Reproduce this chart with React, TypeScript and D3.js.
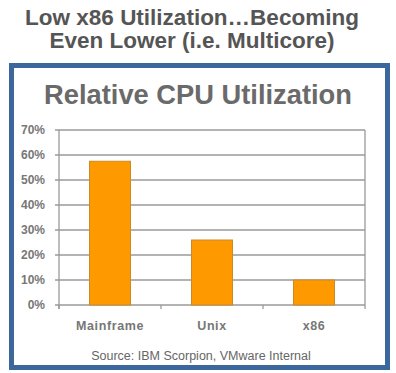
import React from "react";
import * as d3 from "d3";

const categories = ["Mainframe", "Unix", "x86"];
const values = [0.575, 0.26, 0.1];
const yTicks = [0, 0.1, 0.2, 0.3, 0.4, 0.5, 0.6, 0.7];
const titleLines = ["Low x86 Utilization…Becoming", "Even Lower (i.e. Multicore)"];
const chartTitle = "Relative CPU Utilization";
const sourceText = "Source: IBM Scorpion, VMware Internal";

export default function App() {
  const W = 396, H = 373;
  const left = 59, right = 365, top = 130, bottom = 305;
  const x = d3.scaleBand<string>().domain(categories).range([left, right]).paddingInner(0).paddingOuter(0);
  const y = d3.scaleLinear().domain([0, 0.7]).range([bottom, top]);
  const barW = 41;
  const fmt = d3.format(".0%");
  const font = "Arial, 'Liberation Sans', sans-serif";
  return (
    <svg width={W} height={H} style={{ position: "absolute", left: 0, top: 0, background: "#fff" }} fontFamily={font}>
      <rect x={0} y={0} width={W} height={H} fill="#fff" />
      {titleLines.map((t, i) => (
        <text key={i} x={192} y={25 + i * 23} textAnchor="middle" fontSize={22.5} fontWeight="bold" fill="#555">{t}</text>
      ))}
      <rect x={11.5} y={65.5} width={376} height={302} fill="#fff" stroke="#3b679d" strokeWidth={5} />
      <text x={198} y={104} textAnchor="middle" fontSize={27.3} fontWeight="bold" fill="#6a6a6a">{chartTitle}</text>
      {yTicks.map((t) => (
        <g key={t}>
          <line x1={left - 4} x2={right} y1={y(t)} y2={y(t)} stroke="#9a9a9a" strokeWidth={1.3} />
          <text x={45} y={y(t) + 4} textAnchor="end" fontSize={12} fontWeight="bold" fill="#777">{fmt(t)}</text>
        </g>
      ))}
      <line x1={left} x2={left} y1={top} y2={bottom + 4} stroke="#9a9a9a" strokeWidth={1.3} />
      <line x1={right} x2={right} y1={top} y2={bottom + 4} stroke="#9a9a9a" strokeWidth={1.3} />
      {categories.map((c) => (
        <line key={"t" + c} x1={x(c)!} x2={x(c)!} y1={bottom} y2={bottom + 4} stroke="#9a9a9a" strokeWidth={1.3} />
      ))}
      {categories.map((c, i) => {
        const cx = x(c)! + x.bandwidth() / 2;
        return (
          <g key={c}>
            <rect x={cx - barW / 2} y={y(values[i])} width={barW} height={bottom - y(values[i])} fill="#ff9900" stroke="#c98a2a" strokeWidth={1} />
            <text x={cx} y={330} textAnchor="middle" fontSize={12.5} fontWeight="bold" fill="#777" letterSpacing={0.6}>{c}</text>
          </g>
        );
      })}
      <text x={201} y={360} textAnchor="middle" fontSize={12.5} fill="#666">{sourceText}</text>
    </svg>
  );
}
